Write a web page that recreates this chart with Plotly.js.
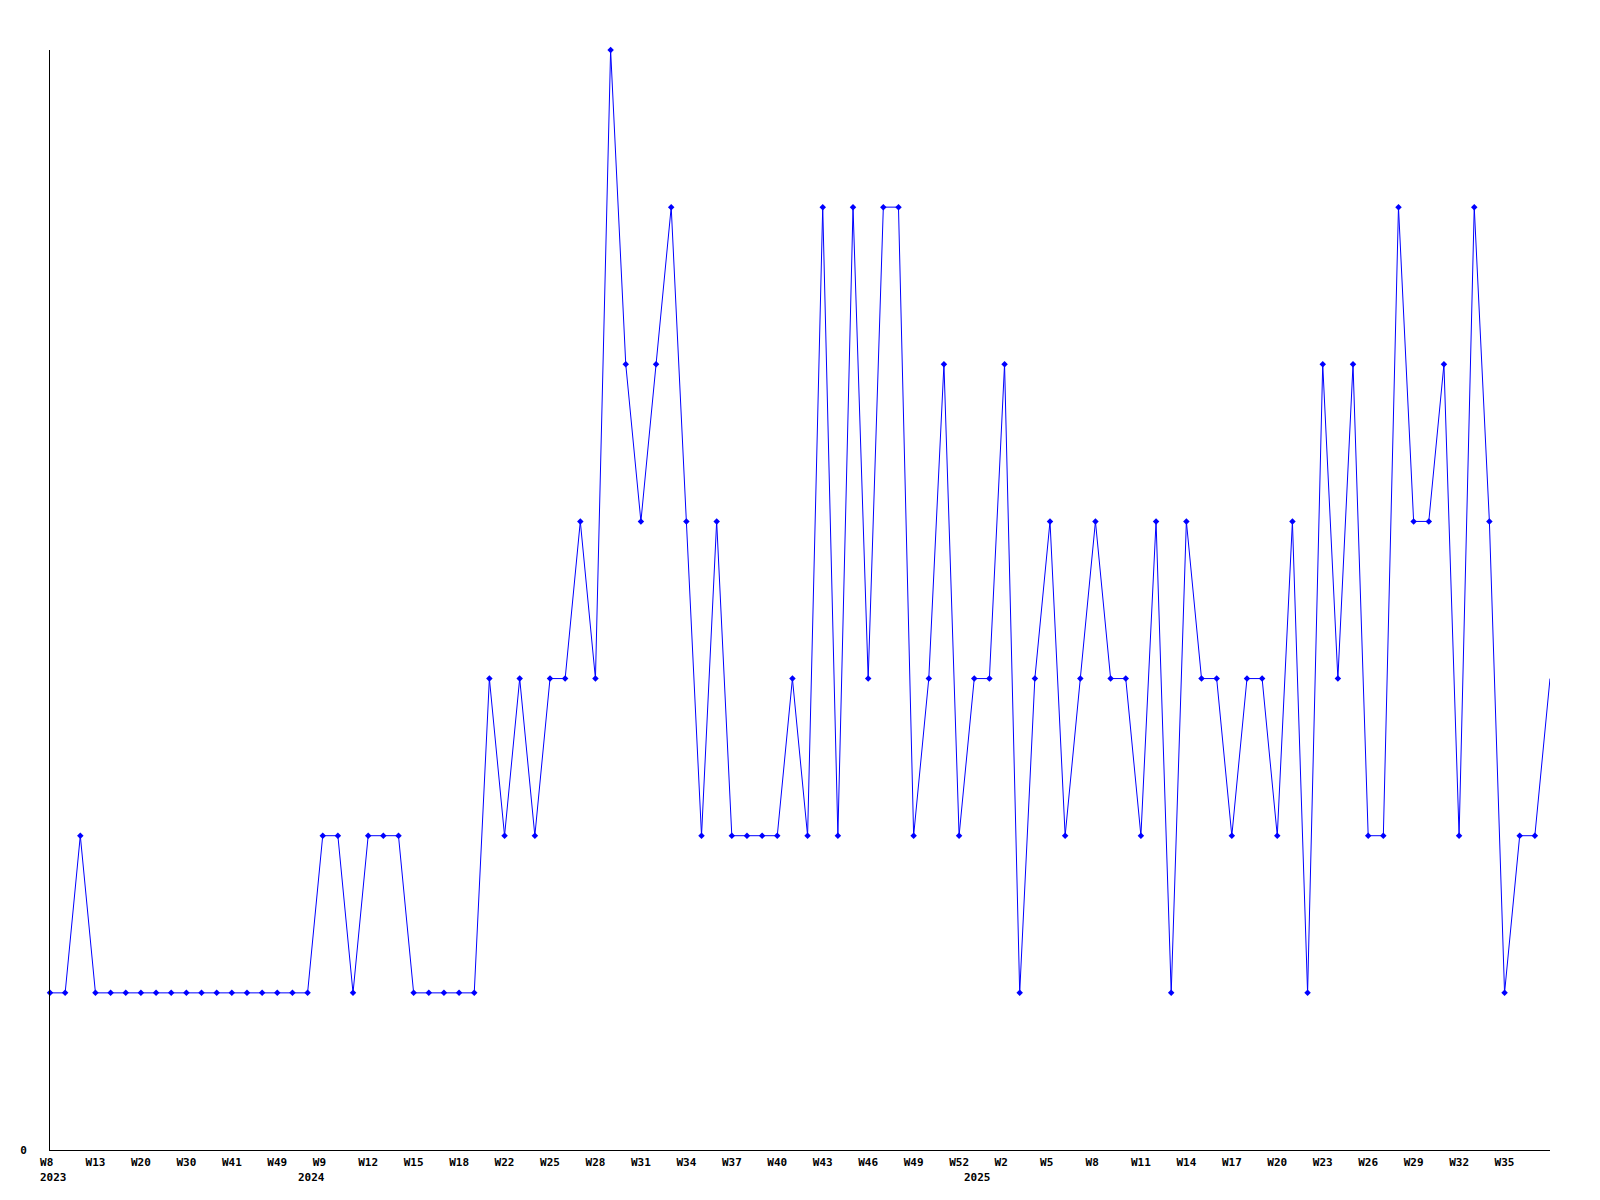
<!DOCTYPE html>
<html><head><meta charset="utf-8">
<script src="https://cdn.plot.ly/plotly-3.0.1.min.js"></script>
<style>html,body{margin:0;padding:0;background:#fff}#chart{width:1600px;height:1200px}</style>
</head><body><div id="chart"></div>
<script>
// Weekly values, one per plotted point (left to right)
const weeklyValues = [
  1,1,2,1,1,1,1,1,1,1,
  1,1,1,1,1,1,1,1,2,2,
  1,2,2,2,1,1,1,1,1,3,
  2,3,2,3,3,4,3,7,5,4,
  5,6,4,2,4,2,2,2,2,3,
  2,6,2,6,3,6,6,2,3,5,
  2,3,3,5,1,3,4,2,3,4,
  3,3,2,4,1,4,3,3,2,3,
  3,2,4,1,5,3,5,2,2,6,
  4,4,5,2,6,4,1,2,2,3
];
// Week labels shown every third point
const weekLabels = ["W8","W13","W20","W30","W41","W49","W9","W12","W15","W18","W22",
  "W25","W28","W31","W34","W37","W40","W43","W46","W49","W52","W2","W5","W8",
  "W11","W14","W17","W20","W23","W26","W29","W32","W35"];
const labelStep = 3;
// Year labels and the point at which each year starts
const yearLabels = ["2023","2024","2025"];
const yearStartPoint = [0,17,61];

const xIdx = weeklyValues.map((v,i)=>i);
const font = {family:"DejaVu Sans Mono, monospace", size:11, color:"#000", weight:"bold"};
const pad = s => s.length < 3 ? s + "\u00a0" : s;

const traces = [
  {x:xIdx, y:weeklyValues, type:"scatter", mode:"lines",
   line:{color:"#0000ff", width:1}, hoverinfo:"x+y", cliponaxis:false, showlegend:false},
  {x:xIdx.slice(0,-1), y:weeklyValues.slice(0,-1), type:"scatter", mode:"markers",
   marker:{color:"#0000ff", symbol:"diamond", size:5}, cliponaxis:false, showlegend:false}
];

const layout = {
  width:1600, height:1200,
  margin:{l:50, r:50, t:50, b:50, pad:0},
  paper_bgcolor:"#fff", plot_bgcolor:"#fff",
  showlegend:false,
  xaxis:{range:[0, weeklyValues.length-1], showline:true, linecolor:"#000", linewidth:1,
    showgrid:false, zeroline:false, ticks:"",
    tickvals:weekLabels.map((w,i)=>i*labelStep), ticktext:weekLabels.map(pad),
    tickfont:font, ticklabelstandoff:2, fixedrange:true},
  yaxis:{range:[0,7], showline:true, linecolor:"#000", linewidth:1,
    showgrid:false, zeroline:false, ticks:"",
    tickvals:[0], ticktext:["0"], tickfont:font, ticklabelstandoff:20, fixedrange:true},
  annotations: yearLabels.map((t,i)=>({
    text:t, x:yearStartPoint[i], xref:"x", y:0, yref:"paper",
    xanchor:"left", yanchor:"top", xshift:-11, yshift:-20,
    showarrow:false, font:font, borderpad:0
  }))
};
Plotly.newPlot("chart", traces, layout, {displayModeBar:false, staticPlot:true});
</script>
</body></html>
